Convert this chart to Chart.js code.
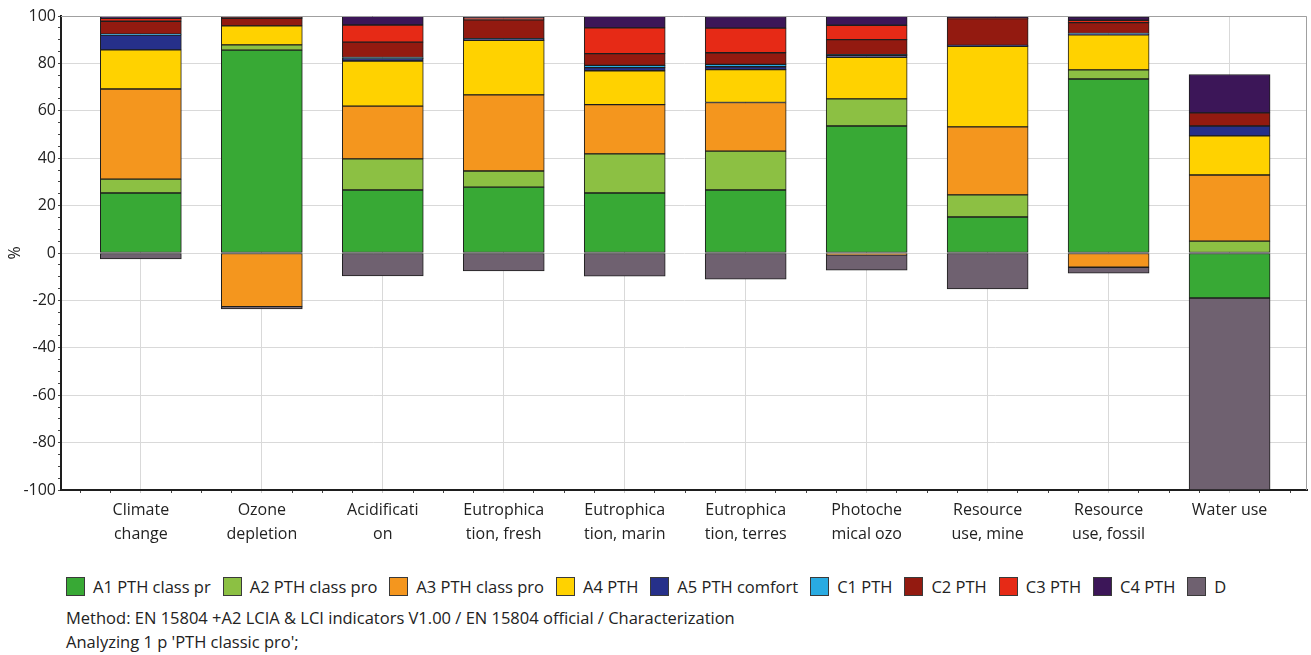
<!DOCTYPE html>
<html>
<head>
<meta charset="utf-8">
<script src="https://cdn.jsdelivr.net/npm/chart.js@4/dist/chart.umd.min.js"></script>
<style>
  body { margin: 0; background: #fff; font-family: "Open Sans", sans-serif; color: #222; }
  #wrap { position: relative; width: 1311px; height: 655px; }
  #wrap canvas { position: absolute; left: 0; top: 0; }
  #legend { position: absolute; left: 66px; top: 577px; display: flex; font-size: 16.5px; white-space: nowrap; }
  #legend .item { display: flex; align-items: center; margin-right: 12px; height: 18px; }
  #legend .box { width: 17px; height: 17px; border: 1px solid #3a3a3a; margin-right: 8px; }
  .note { position: absolute; left: 66px; font-size: 16.5px; white-space: nowrap; }
</style>
</head>
<body>
<div id="wrap">
  <canvas id="chart" width="1311" height="560"></canvas>
  <div id="legend"></div>
  <div class="note" style="top:606px">Method: EN 15804 +A2 LCIA &amp; LCI indicators V1.00 / EN 15804 official / Characterization</div>
  <div class="note" style="top:630px">Analyzing 1 p 'PTH classic pro';</div>
</div>
<script>
const categories = [
    ['Climate', 'change'], ['Ozone', 'depletion'], ['Acidificati', 'on'],
    ['Eutrophica', 'tion, fresh'], ['Eutrophica', 'tion, marin'], ['Eutrophica', 'tion, terres'],
    ['Photoche', 'mical ozo'], ['Resource', 'use, mine'], ['Resource', 'use, fossil'], 'Water use'
];

const seriesNames = ['A1 PTH class pr', 'A2 PTH class pro', 'A3 PTH class pro', 'A4 PTH',
    'A5 PTH comfort', 'C1 PTH', 'C2 PTH', 'C3 PTH', 'C4 PTH', 'D'];

const seriesColors = ['#38a935', '#8cc043', '#f4961e', '#ffd200', '#26308a',
    '#29abe2', '#931a10', '#e62a16', '#3c1658', '#6f6170'];

// values in %, one per category
const a1 = [25.3, 85.6, 26.6, 27.8, 25.3, 26.6, 53.6, 15.2, 73.4, -19];
const a2 = [5.9, 2.2, 13.1, 6.8, 16.5, 16.4, 11.4, 9.3, 3.9, 5];
const a3 = [38, -22.6, 22.3, 32.1, 20.8, 20.5, -0.8, 28.7, -6, 27.9];
const a4 = [16.5, 8, 19, 23, 14.3, 13.9, 17.6, 34, 14.8, 16.5];
const a5 = [6.3, null, 1, 0.5, 1.3, 1.2, 0.8, 0.4, 0.3, 4.2];
const c1 = [0.3, null, 0.5, 0.2, 1, 1, 0.3, null, 0.2, null];
const c2 = [5.5, 3.2, 6.5, 8, 4.9, 4.9, 6.3, 11.3, 4.6, 5.5];
const c3 = [1.2, 0.3, 7.2, 0.8, 10.9, 10.4, 6.1, 0.2, 1, null];
const c4 = [0.9, 0.7, 3.8, 0.8, 4.9, 4.9, 4, 1, 1.5, 16.2];
const d = [-2.5, -1, -9.7, -7.6, -9.8, -11, -6.4, -15.2, -2.5, -81];

const allSeries = [a1, a2, a3, a4, a5, c1, c2, c3, c4, d];

// legend
const legendEl = document.getElementById('legend');
seriesNames.forEach((name, i) => {
    const item = document.createElement('div');
    item.className = 'item';
    item.innerHTML = '<span class="box" style="background:' + seriesColors[i] + '"></span>' + name;
    legendEl.appendChild(item);
});

const isWhole = v => Math.abs(v - Math.round(v)) < 1e-6;

const frame = {
    id: 'frame',
    afterDraw(chart) {
        const { ctx, chartArea: a } = chart;
        ctx.save();
        ctx.strokeStyle = '#a0a0a0';
        ctx.lineWidth = 1;
        ctx.beginPath();
        ctx.moveTo(a.left, a.top + 0.5);
        ctx.lineTo(a.right - 0.5, a.top + 0.5);
        ctx.lineTo(a.right - 0.5, a.bottom);
        ctx.stroke();
        ctx.restore();
    }
};

Chart.defaults.font.family = '"Open Sans", sans-serif';
Chart.defaults.font.size = 16;
Chart.defaults.color = '#222';

new Chart(document.getElementById('chart'), {
    type: 'bar',
    data: {
        datasets: allSeries.map((vals, i) => ({
            label: seriesNames[i],
            data: vals.map((v, j) => ({ x: j, y: v })),
            backgroundColor: seriesColors[i],
            borderColor: '#1e1e1e',
            borderWidth: 1,
            borderSkipped: false,
            barThickness: 81
        }))
    },
    options: {
        responsive: false,
        animation: false,
        layout: { padding: { left: 0, right: 4, top: 16, bottom: 0 } },
        plugins: {
            tooltip: { enabled: false },
            legend: { display: false }
        },
        scales: {
            x: {
                type: 'linear',
                stacked: true,
                offset: false,
                min: -0.66,
                max: 9.64,
                afterFit: s => { s.height = 70; },
                border: { color: '#1e1e1e', width: 2 },
                grid: {
                    offset: false,
                    color: c => (c.tick && isWhole(c.tick.value)) ? '#d9d9d9' : 'rgba(0,0,0,0)',
                    tickColor: c => (c.tick && isWhole(c.tick.value)) ? '#c8c8c8' : '#444',
                    tickLength: 3
                },
                ticks: {
                    stepSize: 0.25,
                    includeBounds: false,
                    autoSkip: false,
                    maxRotation: 0,
                    padding: 5,
                    font: { size: 16, lineHeight: 1.5 },
                    callback: v => isWhole(v) ? categories[Math.round(v)] : ''
                }
            },
            y: {
                stacked: true,
                min: -100,
                max: 100,
                afterFit: s => { s.width = 61; },
                title: { display: true, text: '%', font: { size: 16 }, padding: { top: 6, bottom: 0 } },
                border: { color: '#1e1e1e', width: 2 },
                grid: {
                    color: c => (c.tick && c.tick.value % 20 === 0) ? '#d9d9d9' : 'rgba(0,0,0,0)',
                    tickColor: '#444',
                    tickLength: 3
                },
                ticks: {
                    stepSize: 5,
                    autoSkip: false,
                    padding: 2,
                    callback: v => (v % 20 === 0 ? v : '')
                }
            }
        }
    },
    plugins: [frame]
});
</script>
</body>
</html>
